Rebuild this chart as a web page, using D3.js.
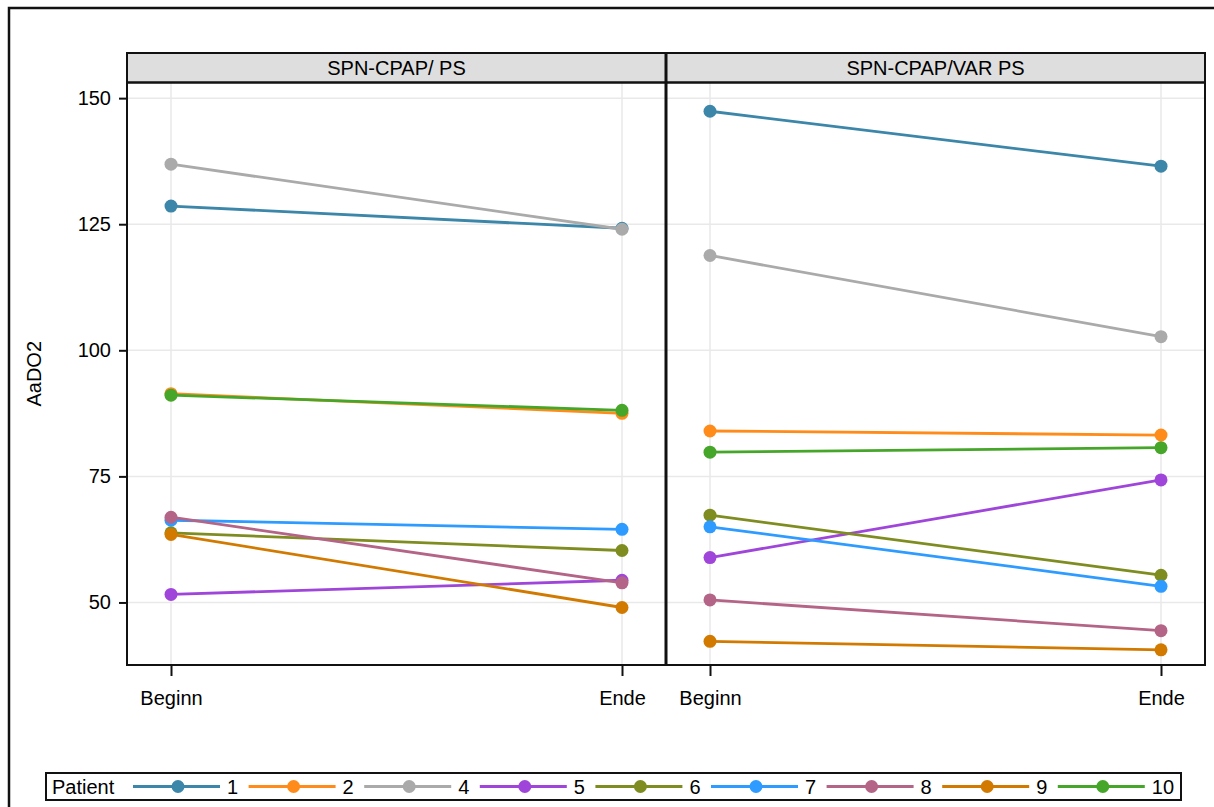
<!DOCTYPE html>
<html>
<head>
<meta charset="utf-8">
<script src="https://cdn.jsdelivr.net/npm/d3@7"></script>
<style>
  body { margin: 0; background: #fff; }
  svg text { font-family: "Liberation Sans", Arial, sans-serif; fill: #000; }
</style>
</head>
<body>
<svg id="chart" width="1214" height="807"></svg>
<script>
const patients = ["1", "2", "4", "5", "6", "7", "8", "9", "10"];
const phases = ["Beginn", "Ende"];
const groups = ["SPN-CPAP/ PS", "SPN-CPAP/VAR PS"];
const yTicks = [50, 75, 100, 125, 150];
const patientColors = ["#3b86a9", "#ff8c1a", "#aaaaaa", "#9f45da", "#7f8c20", "#2d9bff", "#b46486", "#d27a00", "#46a629"];

// AaDO2 per patient: [Beginn, Ende]
const psValues = [
  [128.6, 124.2],
  [91.4, 87.5],
  [136.9, 124.0],
  [51.6, 54.4],
  [63.8, 60.3],
  [66.3, 64.5],
  [66.9, 53.9],
  [63.5, 49.0],
  [91.1, 88.1]
];
const varPsValues = [
  [147.4, 136.5],
  [84.0, 83.2],
  [118.8, 102.7],
  [58.9, 74.3],
  [67.3, 55.4],
  [65.0, 53.2],
  [50.5, 44.4],
  [42.3, 40.6],
  [79.8, 80.7]
];
const panelValues = [psValues, varPsValues];

const fontSize = 20;
const svg = d3.select("#chart");

// outer frame (runs off the right and bottom edge)
svg.append("rect")
  .attr("x", 9)
  .attr("y", 8)
  .attr("width", 1240)
  .attr("height", 830)
  .attr("fill", "none")
  .attr("stroke", "#111")
  .attr("stroke-width", 2.5);

const panelLeft = 127;
const panelWidth = 539;
const headerTop = 53;
const plotTop = 82.5;
const plotBottom = 665;

const y = d3.scaleLinear().domain([37.6, 153.1]).range([plotBottom, plotTop]);
const color = d3.scaleOrdinal().domain(patients).range(patientColors);

groups.forEach((group, gi) => {
  const x0 = panelLeft + gi * panelWidth;
  const x = d3.scalePoint().domain(phases).range([x0 + 44, x0 + panelWidth - 44]);
  const g = svg.append("g");

  // grid
  g.selectAll(".hgrid")
    .data(yTicks)
    .join("line")
    .attr("x1", x0)
    .attr("x2", x0 + panelWidth)
    .attr("y1", d => y(d))
    .attr("y2", d => y(d))
    .attr("stroke", "#e9e9e9")
    .attr("stroke-width", 1.5);

  g.selectAll(".vgrid")
    .data(phases)
    .join("line")
    .attr("x1", d => x(d))
    .attr("x2", d => x(d))
    .attr("y1", plotTop)
    .attr("y2", plotBottom)
    .attr("stroke", "#e9e9e9")
    .attr("stroke-width", 1.5);

  // lines + markers
  const line = d3.line().x((d, i) => x(phases[i])).y(d => y(d));
  const values = panelValues[gi];

  patients.forEach((p, pi) => {
    g.append("path")
      .attr("d", line(values[pi]))
      .attr("fill", "none")
      .attr("stroke", color(p))
      .attr("stroke-width", 2.8);

    g.selectAll(null)
      .data(values[pi])
      .join("circle")
      .attr("cx", (d, i) => x(phases[i]))
      .attr("cy", d => y(d))
      .attr("r", 6.5)
      .attr("fill", color(p));
  });

  // header strip
  g.append("rect")
    .attr("x", x0)
    .attr("y", headerTop)
    .attr("width", panelWidth)
    .attr("height", plotTop - headerTop)
    .attr("fill", "#dedede")
    .attr("stroke", "#111")
    .attr("stroke-width", 2);

  g.append("text")
    .attr("x", x0 + panelWidth / 2)
    .attr("y", headerTop + 22)
    .attr("text-anchor", "middle")
    .attr("font-size", fontSize)
    .text(group);

  // panel border
  g.append("rect")
    .attr("x", x0)
    .attr("y", plotTop)
    .attr("width", panelWidth)
    .attr("height", plotBottom - plotTop)
    .attr("fill", "none")
    .attr("stroke", "#111")
    .attr("stroke-width", 2);

  // x axis
  const xAxis = g.append("g")
    .attr("transform", `translate(0,${plotBottom})`)
    .call(d3.axisBottom(x).tickSize(11).tickPadding(15));
  xAxis.select(".domain").remove();
  xAxis.selectAll(".tick line").attr("stroke", "#111").attr("stroke-width", 2);
  xAxis.selectAll(".tick text")
    .attr("font-size", fontSize)
    .attr("font-family", "Liberation Sans, Arial, sans-serif");
});

// thicker divider between panels
svg.append("line")
  .attr("x1", panelLeft + panelWidth)
  .attr("x2", panelLeft + panelWidth)
  .attr("y1", headerTop)
  .attr("y2", plotBottom)
  .attr("stroke", "#111")
  .attr("stroke-width", 3);

// y axis
const yAxis = svg.append("g")
  .attr("transform", `translate(${panelLeft},0)`)
  .call(d3.axisLeft(y).tickValues(yTicks).tickSize(8).tickPadding(8));
yAxis.select(".domain").remove();
yAxis.selectAll(".tick line").attr("stroke", "#111").attr("stroke-width", 2);
yAxis.selectAll(".tick text")
  .attr("font-size", fontSize)
  .attr("font-family", "Liberation Sans, Arial, sans-serif");

svg.append("text")
  .attr("transform", `translate(41,${(plotTop + plotBottom) / 2}) rotate(-90)`)
  .attr("text-anchor", "middle")
  .attr("font-size", fontSize)
  .text("AaDO2");

// legend
const legend = svg.append("g");
legend.append("rect")
  .attr("x", 46)
  .attr("y", 773)
  .attr("width", 1135)
  .attr("height", 27)
  .attr("fill", "#fff")
  .attr("stroke", "#111")
  .attr("stroke-width", 2);

legend.append("text")
  .attr("x", 52)
  .attr("y", 794)
  .attr("font-size", fontSize)
  .text("Patient");

const item = legend.selectAll(".item")
  .data(patients)
  .join("g")
  .attr("transform", (d, i) => `translate(${133 + i * 115.6},786.5)`);

item.append("line")
  .attr("x1", 0)
  .attr("x2", 87)
  .attr("stroke", d => color(d))
  .attr("stroke-width", 2.8);

item.append("circle")
  .attr("cx", 45)
  .attr("r", 6.5)
  .attr("fill", d => color(d));

item.append("text")
  .attr("x", 94)
  .attr("y", 7)
  .attr("font-size", fontSize)
  .text(d => d);
</script>
</body>
</html>
